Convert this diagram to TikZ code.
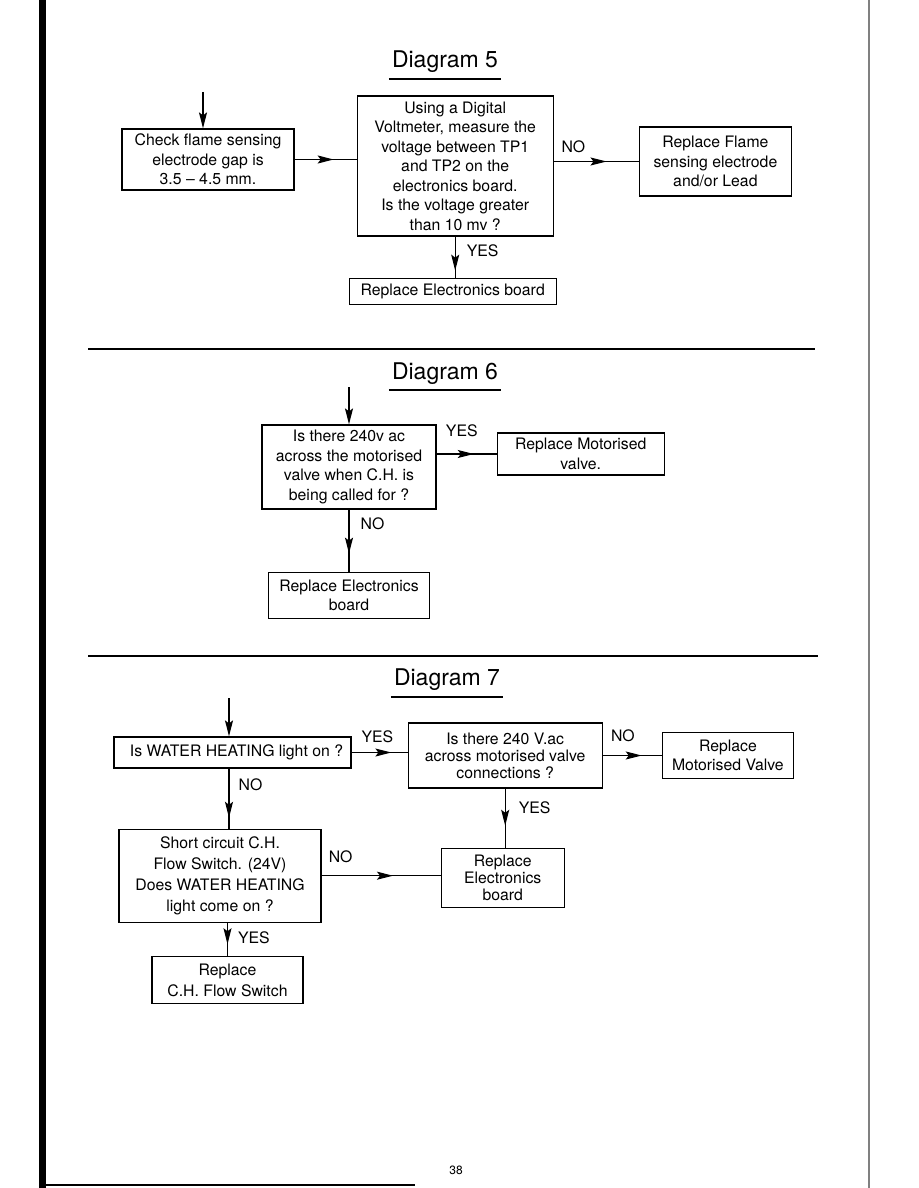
\documentclass[tikz,border=0pt]{standalone}
\usepackage{fontspec}
\setmainfont{TeX Gyre Heros}
\usetikzlibrary{arrows.meta,positioning,decorations.markings}

\begin{document}
\begin{tikzpicture}[
  x=1pt, y=-1pt,
  font=\fontsize{15.8}{19.5}\selectfont,
  box/.style={draw, line width=1.2pt, align=center, inner sep=2pt},
  tight/.style={font=\fontsize{15.8}{17}\selectfont},
  loose/.style={font=\fontsize{15.8}{21}\selectfont},
  arr/.style={-{Stealth[length=16pt,width=8pt,inset=3pt]}, line width=1.2pt},
  midarr/.style={line width=1.2pt, postaction={decorate},
    decoration={markings, mark=at position #1 with {\arrow{Stealth[length=16pt,width=8pt,inset=3pt]}}}},
  midarr/.default=0.65,
  lbl/.style={inner sep=0pt},
  title/.style={font=\fontsize{23}{27}\selectfont, inner sep=0pt, anchor=base},
  uline/.style={line width=1.3pt},
  rule/.style={line width=1.4pt}
]
\useasboundingbox (0,0) rectangle (918,1188);

% page edges
\fill (39,0) rectangle (46,1188);
\draw[gray, line width=1.3pt] (869,0) -- (869,1188);
\draw[line width=1.2pt] (40,1185) -- (415,1185);
\node (pg) at (456,1170) {\fontsize{12}{14}\selectfont 38};

% Diagram 5
\node[title] (t5) at (445,68) {Diagram 5};
\draw[uline] ([xshift=-3pt,yshift=-11pt]t5.base west) -- ([xshift=3pt,yshift=-11pt]t5.base east);
\coordinate (in5) at (203,92);
\node[box, minimum width=172pt, minimum height=61pt] (c5a) at (208,159.5)
  {Check flame sensing\\electrode gap is\\3.5 -- 4.5 mm.};
\node[box, minimum width=196pt, minimum height=140pt, right=62pt of c5a, yshift=-6.5pt] (c5b)
  {Using a Digital\\Voltmeter, measure the\\voltage between TP1\\and TP2 on the\\electronics board.\\Is the voltage greater\\than 10 mv ?};
\node[box, minimum width=152pt, minimum height=69pt, right=85pt of c5b, yshift=4.5pt] (c5c)
  {Replace Flame\\sensing electrode\\and/or Lead};
\node[box, minimum width=207pt, minimum height=26pt, below=41pt of c5b, xshift=-2.5pt] (c5d)
  {Replace Electronics board};
\draw[arr] (in5) -- (in5 |- c5a.north);
\draw[midarr=0.63] (c5a.east) -- (c5a.east -| c5b.west);
\draw[midarr=0.62] (c5c.west -| c5b.east) -- node[lbl, pos=0.23, above=8pt] {NO} (c5c.west);
\draw[midarr=0.83] (c5b.south) -- node[lbl, pos=0.34, right=11pt] {YES} (c5b.south |- c5d.north);

\draw[rule] (88,349) -- (815,349);

% Diagram 6
\node[title] (t6) at (445,379) {Diagram 6};
\draw[uline] ([xshift=-3pt,yshift=-11pt]t6.base west) -- ([xshift=3pt,yshift=-11pt]t6.base east);
\coordinate (in6) at (349,387);
\node[box, minimum width=174pt, minimum height=84pt] (c6a) at (349,467)
  {Is there 240v ac\\across the motorised\\valve when C.H. is\\being called for ?};
\node[box, minimum width=167pt, minimum height=42pt, right=60pt of c6a, yshift=13pt] (c6b)
  {Replace Motorised\\valve.};
\node[box, minimum width=161pt, minimum height=46pt, below=62pt of c6a] (c6c)
  {Replace Electronics\\board};
\draw[arr] (in6) -- (in6 |- c6a.north);
\draw[midarr=0.62] (c6b.west -| c6a.east) -- node[lbl, pos=0.42, above=17pt] {YES} (c6b.west);
\draw[midarr=0.71] (c6a.south) -- node[lbl, pos=0.22, right=11pt] {NO} (c6c.north);

\draw[rule] (88,656) -- (818,656);

% Diagram 7
\node[title] (t7) at (447,685) {Diagram 7};
\draw[uline] ([xshift=-3pt,yshift=-12pt]t7.base west) -- ([xshift=3pt,yshift=-12pt]t7.base east);
\coordinate (in7) at (229,698);
\node[box, minimum width=237pt, minimum height=31pt] (c7a) at (232.5,752.5)
  {\hspace*{8pt}Is WATER HEATING light on ?};
\node[box, tight, minimum width=194pt, minimum height=65pt, right=56pt of c7a, yshift=-3pt] (c7b)
  {Is there 240 V.ac\\across motorised valve\\connections ?};
\node[box, minimum width=131pt, minimum height=46pt, right=59pt of c7b] (c7c)
  {Replace\\Motorised Valve};
\node[box, tight, minimum width=123pt, minimum height=59pt, below=59pt of c7b, xshift=-2.5pt] (c7d)
  {Replace\\Electronics\\board};
\node[box, loose, minimum width=202pt, minimum height=93pt, below=60pt of c7a, xshift=-12.5pt] (c7e)
  {Short circuit C.H.\\Flow Switch. (24V)\\Does WATER HEATING\\light come on ?};
\node[box, loose, minimum width=151pt, minimum height=47pt, below=33pt of c7e, xshift=7.5pt] (c7f)
  {Replace\\C.H. Flow Switch};
\draw[arr] (in7) -- (in7 |- c7a.north);
\draw[midarr=0.71] (c7a.east) -- node[lbl, pos=0.46, above=9pt] {YES} (c7a.east -| c7b.west);
\draw[midarr=0.66] (c7c.west -| c7b.east) -- node[lbl, pos=0.34, above=13pt] {NO} (c7c.west);
\draw[midarr=0.63] (c7b.south) -- node[lbl, pos=0.32, right=13pt] {YES} (c7b.south |- c7d.north);
\draw[midarr=0.82] (in7 |- c7a.south) -- node[lbl, pos=0.27, right=9pt] {NO} (in7 |- c7e.north);
\draw[midarr=0.6] (c7e.east) -- node[lbl, pos=0.16, above=12pt] {NO} (c7e.east -| c7d.west);
\draw[midarr=0.65] (c7f.north |- c7e.south) -- node[lbl, pos=0.45, right=10pt] {YES} (c7f.north);
\end{tikzpicture}
\end{document}
